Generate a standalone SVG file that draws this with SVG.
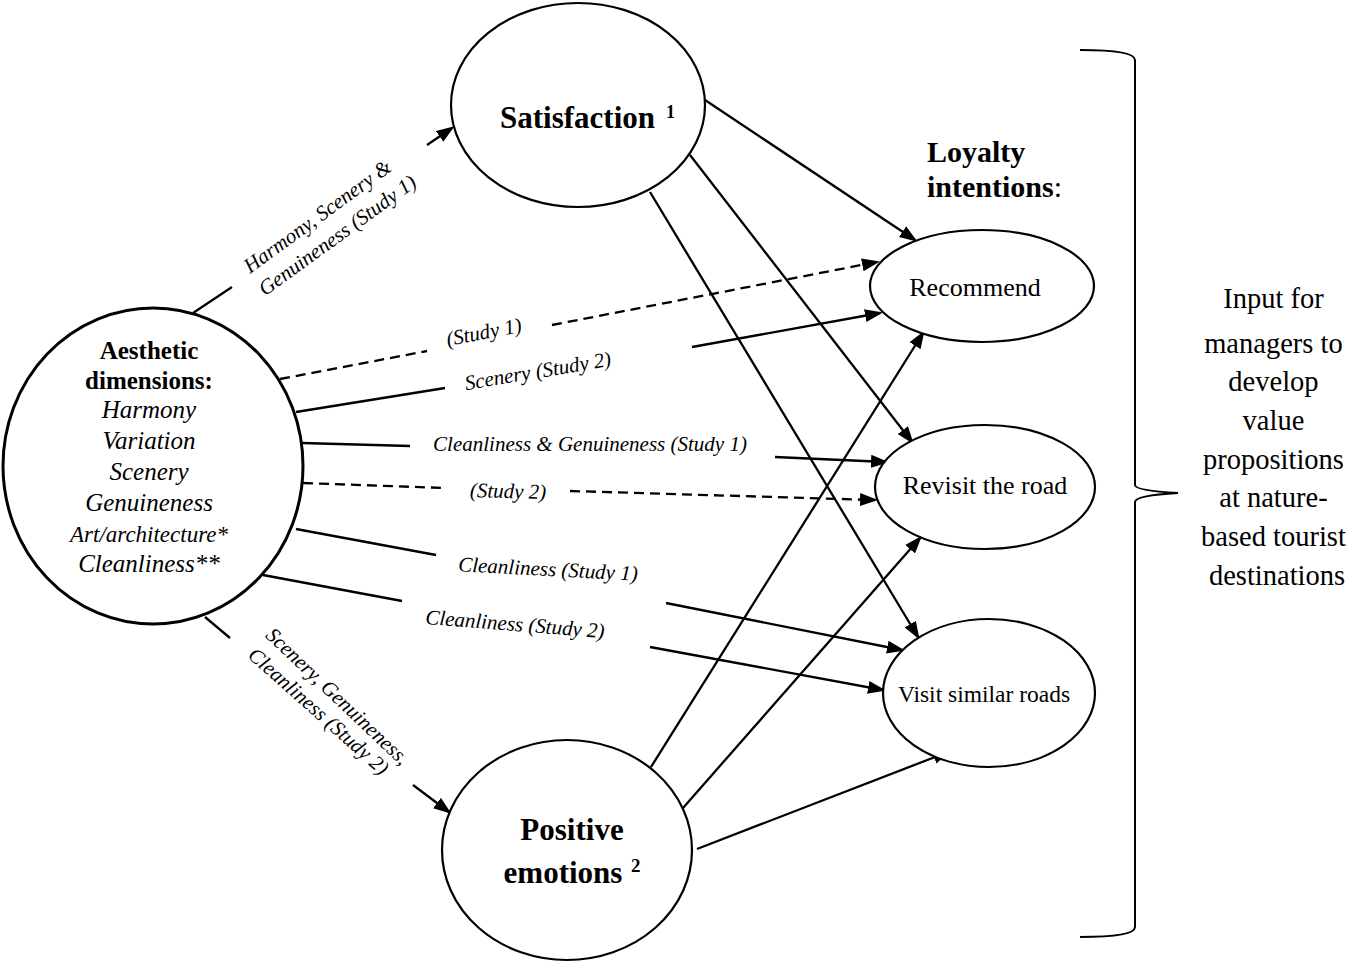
<svg xmlns="http://www.w3.org/2000/svg" width="1353" height="962" viewBox="0 0 1353 962">
<style>
text{font-family:"Liberation Serif","Times New Roman",serif;fill:#000}
.node{fill:#fff;stroke:#000;stroke-width:2.2}
.lbl{font-size:21px;font-style:italic}
.bold{font-weight:bold}
.ln{stroke:#000;stroke-width:2.3;fill:none}
.dash{stroke-dasharray:10 6}
.ar{marker-end:url(#arr)}
</style>
<defs>
<marker id="arr" markerWidth="18" markerHeight="14" refX="15" refY="7" orient="auto" markerUnits="userSpaceOnUse">
<path d="M0,0.5 L18,7 L0,13.5 z" fill="#000"/>
</marker>
</defs>
<rect width="1353" height="962" fill="#fff"/>

<g id="connectors">
<line class="ln" x1="193" y1="313" x2="232" y2="287"/>
<line class="ln ar" x1="427" y1="145" x2="452" y2="128"/>
<line class="ln dash" x1="280" y1="379" x2="427" y2="351"/>
<line class="ln dash ar" x1="552" y1="325" x2="877" y2="262"/>
<line class="ln" x1="296" y1="412" x2="445" y2="388"/>
<line class="ln ar" x1="692" y1="347" x2="880" y2="313"/>
<line class="ln" x1="302" y1="443" x2="410" y2="446"/>
<line class="ln ar" x1="775" y1="457" x2="886" y2="462"/>
<line class="ln dash" x1="303" y1="483" x2="445" y2="488"/>
<line class="ln dash ar" x1="570" y1="491" x2="875" y2="500"/>
<line class="ln" x1="296" y1="529" x2="436" y2="555"/>
<line class="ln ar" x1="666" y1="603" x2="902" y2="650"/>
<line class="ln" x1="263" y1="575" x2="402" y2="601"/>
<line class="ln ar" x1="650" y1="647" x2="883" y2="690"/>
<line class="ln" x1="205" y1="617" x2="230" y2="638"/>
<line class="ln ar" x1="413" y1="785" x2="449" y2="812"/>
<line class="ln ar" x1="705" y1="100" x2="915" y2="240"/>
<line class="ln ar" x1="690" y1="155" x2="912" y2="442"/>
<line class="ln ar" x1="650" y1="192" x2="918" y2="637"/>
<line class="ln ar" x1="651" y1="767" x2="923" y2="333"/>
<line class="ln ar" x1="683" y1="808" x2="920" y2="538"/>
<line class="ln ar" x1="697" y1="849" x2="948" y2="752"/>
</g>

<g id="edge-labels">
<text class="lbl" x="318" y="223" text-anchor="middle" transform="rotate(-36 318 217)">Harmony, Scenery &amp;</text>
<text class="lbl" x="338" y="242" text-anchor="middle" transform="rotate(-36 338 236)">Genuineness (Study 1)</text>
<text class="lbl" x="484" y="339" text-anchor="middle" transform="rotate(-11 484 333)">(Study 1)</text>
<text class="lbl" x="538" y="378" text-anchor="middle" transform="rotate(-9.5 538 372)">Scenery (Study 2)</text>
<text class="lbl" x="590" y="451" text-anchor="middle">Cleanliness &amp; Genuineness (Study 1)</text>
<text class="lbl" x="508" y="498" text-anchor="middle" transform="rotate(1.5 508 492)">(Study 2)</text>
<text class="lbl" x="548" y="576" text-anchor="middle" transform="rotate(3 548 570)">Cleanliness (Study 1)</text>
<text class="lbl" x="515" y="631" text-anchor="middle" transform="rotate(4.5 515 625)">Cleanliness (Study 2)</text>
<text class="lbl" x="337" y="703" text-anchor="middle" transform="rotate(43.5 337 697)">Scenery, Genuineness,</text>
<text class="lbl" x="318" y="718" text-anchor="middle" transform="rotate(41.6 318 712)">Cleanliness (Study 2)</text>
</g>

<g id="aesthetic">
<ellipse class="node" cx="153" cy="466" rx="150" ry="158" style="stroke-width:3"/>
<text class="bold" x="149" y="359" font-size="25" text-anchor="middle">Aesthetic</text>
<text class="bold" x="149" y="389" font-size="25" text-anchor="middle">dimensions:</text>
<text x="149" y="418" font-size="25" font-style="italic" text-anchor="middle">Harmony</text>
<text x="149" y="449" font-size="25" font-style="italic" text-anchor="middle">Variation</text>
<text x="149" y="480" font-size="25" font-style="italic" text-anchor="middle">Scenery</text>
<text x="149" y="511" font-size="25" font-style="italic" text-anchor="middle">Genuineness</text>
<text x="149" y="542" font-size="23" font-style="italic" text-anchor="middle">Art/architecture*</text>
<text x="149" y="572" font-size="25" font-style="italic" text-anchor="middle">Cleanliness**</text>
</g>

<g id="satisfaction">
<ellipse class="node" cx="578" cy="105" rx="127" ry="102"/>
<text class="bold" x="500" y="128" font-size="31">Satisfaction</text>
<text class="bold" x="666" y="118" font-size="18">1</text>
</g>

<g id="positive">
<ellipse class="node" cx="567" cy="850" rx="125" ry="110"/>
<text class="bold" x="572" y="840" font-size="31" text-anchor="middle">Positive</text>
<text class="bold" x="563" y="883" font-size="31" text-anchor="middle">emotions</text>
<text class="bold" x="631" y="872" font-size="19">2</text>
</g>

<g id="loyalty">
<text class="bold" x="927" y="162" font-size="30">Loyalty</text>
<text x="927" y="197" font-size="30"><tspan font-weight="bold">intentions</tspan>:</text>
</g>

<g id="recommend">
<ellipse class="node" cx="982" cy="286" rx="112" ry="56"/>
<text x="975" y="296" font-size="26" text-anchor="middle">Recommend</text>
</g>

<g id="revisit">
<ellipse class="node" cx="985" cy="487" rx="110" ry="62"/>
<text x="985" y="494" font-size="26" text-anchor="middle">Revisit the road</text>
</g>

<g id="similar">
<ellipse class="node" cx="989" cy="693" rx="106" ry="74"/>
<text x="984" y="702" font-size="23.5" text-anchor="middle">Visit similar roads</text>
</g>

<g id="brace">
<path class="ln" style="stroke-width:2" d="M1080,50 C1115,50 1135,53 1135,60 V485 C1135,490 1160,492 1178,493 C1160,494 1135,496 1135,502 V927 C1135,934 1115,937 1080,937"/>
<text font-size="28.5" text-anchor="middle">
<tspan x="1277" y="308">Input for</tspan>
<tspan x="1277" y="353">managers to</tspan>
<tspan x="1277" y="391">develop</tspan>
<tspan x="1277" y="430">value</tspan>
<tspan x="1277" y="469">propositions</tspan>
<tspan x="1277" y="507">at nature-</tspan>
<tspan x="1277" y="546">based tourist</tspan>
<tspan x="1277" y="585">destinations</tspan>
</text>
</g>
</svg>
